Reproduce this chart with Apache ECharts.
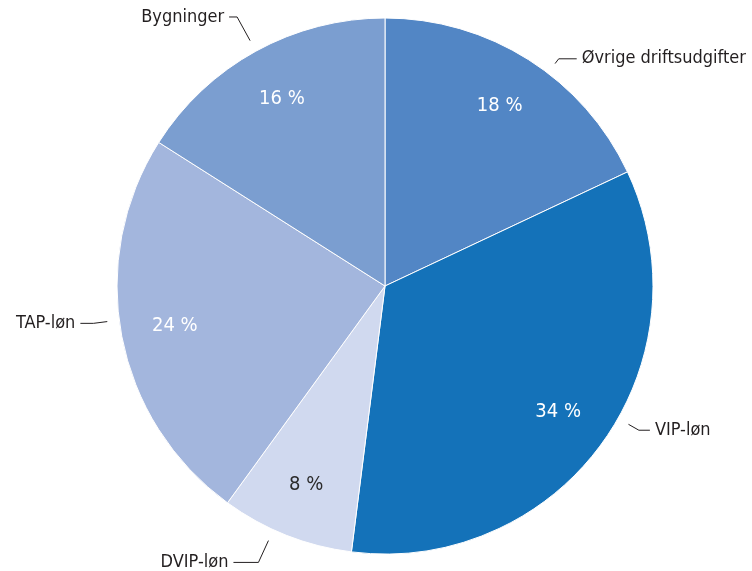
<!DOCTYPE html>
<html>
<head>
<meta charset="utf-8">
<script src="https://cdn.jsdelivr.net/npm/echarts@6/dist/echarts.min.js"></script>
<style>
html,body{margin:0;padding:0;background:#fff;}
#chart{width:752px;height:571px;}
</style>
</head>
<body>
<div id="chart"></div>
<script>
// ---- data ----
const categories = ['Øvrige driftsudgifter', 'VIP-løn', 'DVIP-løn', 'TAP-løn', 'Bygninger'];
const values = [18, 34, 8, 24, 16];
const sliceColors = ['#5286c5', '#1472b9', '#d0d9ef', '#a3b6dd', '#7b9ed0'];
const pctColors = ['#ffffff', '#ffffff', '#2b2b2b', '#ffffff', '#ffffff'];

// ---- style / layout constants ----
const FONT = '"DejaVu Sans Condensed", "DejaVu Sans", sans-serif';
const CX = 385, CY = 286, R = 268;
const LINE_R = 280;
// per-label leader styling: angle shift (deg), radial segment, horizontal segment
const leaderShift = [5, -6.4, 3, 3.5, 0];
const leaderLen1 = [6, 12, 24, 14, 27];
const leaderLen2 = [18, 11, 25, 13, 8];

const total = values.reduce((a, b) => a + b, 0);
const midAngles = [];
let acc = 0;
values.forEach(v => { midAngles.push((acc + v / 2) / total * 360); acc += v; });

const chart = echarts.init(document.getElementById('chart'), null, {renderer: 'canvas'});

const mainData = categories.map((c, i) => ({
  name: c, value: values[i], itemStyle: {color: sliceColors[i]}
}));
const pctData = categories.map((c, i) => ({
  name: c, value: values[i],
  label: {color: pctColors[i]}
}));

chart.setOption({
  animation: false,
  backgroundColor: '#ffffff',
  series: [
    {
      type: 'pie',
      center: [CX, CY],
      radius: [0, R],
      startAngle: 90,
      clockwise: true,
      silent: true,
      avoidLabelOverlap: false,
      itemStyle: {borderColor: '#ffffff', borderWidth: 1},
      label: {
        show: true,
        position: 'outside',
        color: '#231f20',
        fontFamily: FONT,
        fontSize: 18,
        formatter: '{b}'
      },
      labelLine: {show: true, lineStyle: {color: '#231f20', width: 1}},
      labelLayout: function (params) {
        const i = params.dataIndex;
        const a = (midAngles[i] + leaderShift[i]) * Math.PI / 180;
        const sx = Math.sin(a), sy = -Math.cos(a);
        const p0 = [CX + LINE_R * sx, CY + LINE_R * sy];
        const p1 = [p0[0] + leaderLen1[i] * sx, p0[1] + leaderLen1[i] * sy];
        const dir = sx >= 0 ? 1 : -1;
        const p2 = [p1[0] + dir * leaderLen2[i], p1[1]];
        return {
          x: p2[0] + dir * 5,
          y: p2[1],
          align: dir > 0 ? 'left' : 'right',
          verticalAlign: 'middle',
          labelLinePoints: [p0, p1, p2]
        };
      },
      data: mainData
    },
    {
      type: 'pie',
      center: [CX, CY],
      radius: [206, 216],
      startAngle: 90,
      clockwise: true,
      silent: true,
      avoidLabelOverlap: false,
      itemStyle: {color: 'rgba(0,0,0,0)', borderWidth: 0},
      label: {
        show: true,
        position: 'inside',
        rotate: 0,
        fontFamily: FONT,
        fontSize: 20,
        formatter: '{c} %'
      },
      labelLine: {show: false},
      data: pctData
    }
  ]
});
</script>
</body>
</html>
